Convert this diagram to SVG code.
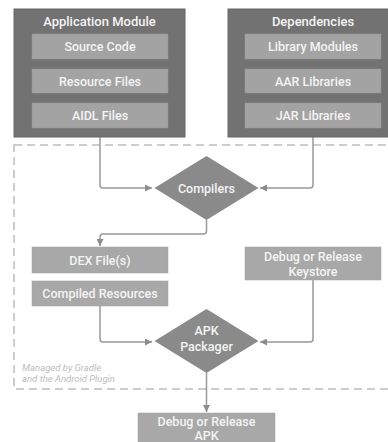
<svg xmlns="http://www.w3.org/2000/svg" width="388" height="442" viewBox="0 0 388 442">
<defs>
<marker id="arr" viewBox="0 0 10 10" refX="10" refY="5" markerWidth="7" markerHeight="7" markerUnits="userSpaceOnUse" orient="auto">
<path d="M0,0 L10,5 L0,10 z" fill="#8c8c8c"/>
</marker>
</defs>
<style>
.outer{fill:#727272;stroke:#666;stroke-width:1}
.inner{fill:#a3a3a3;stroke:#999;stroke-width:0.5}
.box{fill:#a8a8a8;stroke:#a0a0a0;stroke-width:0.5}
.dia{fill:#8a8a8a}
.t{font-family:Roboto,"Liberation Sans",sans-serif;font-weight:500;fill:#f4f4f4;text-anchor:middle}
.title{font-size:13px}
.lbl{font-size:12.5px}
.conn{fill:none;stroke:#999;stroke-width:1.5;stroke-linejoin:round}
.dash{fill:none;stroke:#bdbdbd;stroke-width:1.5;stroke-dasharray:8 5}
.note{font-family:Roboto,"Liberation Sans",sans-serif;font-style:italic;font-size:9.5px;fill:#bdbdbd}
</style>
<rect width="388" height="442" fill="#ffffff"/>
<rect class="dash" x="14" y="145" width="390" height="244"/>
<g id="connectors">
<path class="conn" d="M100,137 V185 Q100,188 103,188 H152" marker-end="url(#arr)"/>
<path class="conn" d="M313,137 V185 Q313,188 310,188 H260" marker-end="url(#arr)"/>
<path class="conn" d="M206.5,220 V231 Q206.5,234 203.5,234 H103 Q100,234 100,237 V246" marker-end="url(#arr)"/>
<path class="conn" d="M100,306 V339 Q100,342 103,342 H152" marker-end="url(#arr)"/>
<path class="conn" d="M313,280 V339 Q313,342 310,342 H260" marker-end="url(#arr)"/>
<path class="conn" d="M206.5,373 V412" marker-end="url(#arr)"/>
</g>
<g id="app-module">
<rect class="outer" x="14" y="9" width="171" height="128"/>
<text class="t title" x="99.5" y="26">Application Module</text>
<rect class="inner" x="32" y="34" width="136" height="25"/>
<text class="t lbl" x="100" y="51">Source Code</text>
<rect class="inner" x="32" y="69" width="136" height="24"/>
<text class="t lbl" x="100" y="85.5">Resource Files</text>
<rect class="inner" x="32" y="103" width="136" height="25"/>
<text class="t lbl" x="100" y="120">AIDL Files</text>
</g>
<g id="dependencies">
<rect class="outer" x="228" y="9" width="171" height="128"/>
<text class="t title" x="313" y="26">Dependencies</text>
<rect class="inner" x="245" y="34" width="136" height="25"/>
<text class="t lbl" x="313" y="51">Library Modules</text>
<rect class="inner" x="245" y="69" width="136" height="24"/>
<text class="t lbl" x="313" y="85.5">AAR Libraries</text>
<rect class="inner" x="245" y="103" width="136" height="25"/>
<text class="t lbl" x="313" y="120">JAR Libraries</text>
</g>
<g id="compilers">
<polygon class="dia" points="206.5,156 258.5,188 206.5,220 154.5,188"/>
<text class="t lbl" x="206.5" y="192.5">Compilers</text>
</g>
<g id="dex">
<rect class="box" x="32" y="247" width="136" height="26"/>
<text class="t lbl" x="100" y="264.5">DEX File(s)</text>
</g>
<g id="compiled-resources">
<rect class="box" x="32" y="281" width="136" height="25"/>
<text class="t lbl" x="100" y="298">Compiled Resources</text>
</g>
<g id="keystore">
<rect class="box" x="245" y="247" width="136" height="33"/>
<text class="t lbl" x="313" y="260.5">Debug or Release</text>
<text class="t lbl" x="313" y="276">Keystore</text>
</g>
<g id="apk-packager">
<polygon class="dia" points="206.5,309 258.5,341 206.5,373 154.5,341"/>
<text class="t lbl" x="206.5" y="334.5">APK</text>
<text class="t lbl" x="206.5" y="351">Packager</text>
</g>
<g id="output-apk">
<rect class="box" x="138" y="413" width="137" height="34"/>
<text class="t lbl" x="206.5" y="426">Debug or Release</text>
<text class="t lbl" x="206.5" y="439.5">APK</text>
</g>
<g id="note">
<text class="note" x="22" y="371">Managed by Gradle</text>
<text class="note" x="22" y="382">and the Android Plugin</text>
</g>
</svg>
